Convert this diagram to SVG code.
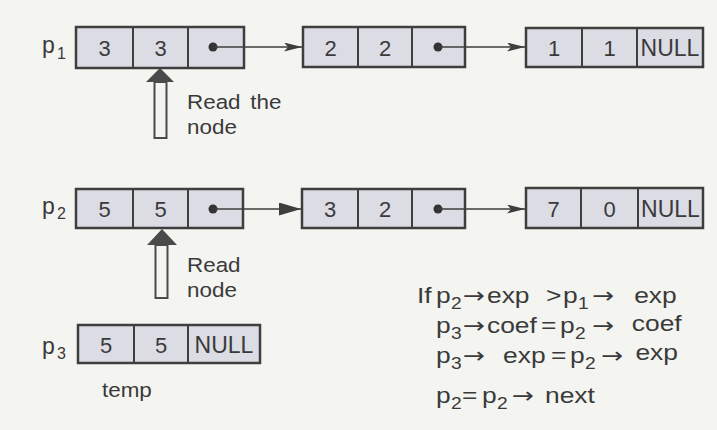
<svg xmlns="http://www.w3.org/2000/svg" width="717" height="430" viewBox="0 0 717 430">
  <style>
    .bg { fill: #f4f4f1; }
    .box { fill: #dcdce5; stroke: #3e3e3e; stroke-width: 2.5; }
    .div { stroke: #3e3e3e; stroke-width: 2; }
    .val { font-family: "Liberation Sans", Arial, sans-serif; font-size: 22px; fill: #3a3a3a; text-anchor: middle; }
    .null { font-family: "Liberation Sans", Arial, sans-serif; font-size: 23px; fill: #3a3a3a; text-anchor: middle; }
    .lbl { font-family: "Liberation Sans", Arial, sans-serif; font-size: 23px; fill: #3a3a3a; }
    .sub { font-size: 16px; }
    .note { font-family: "Liberation Sans", Arial, sans-serif; font-size: 19.5px; fill: #3a3a3a; }
    .code { font-family: "Liberation Sans", Arial, sans-serif; font-size: 22px; fill: #3a3a3a; }
    .arr { font-family: "DejaVu Sans", sans-serif; font-size: 22px; }
    .dot { fill: #333; }
    .link { stroke: #3e3e3e; stroke-width: 1.6; fill: none; }
    .ptr-head { fill: #4a4a4a; }
    .ptr-shaft { fill: #f4f4f1; stroke: #4a4a4a; stroke-width: 2; }
  </style>
  <defs>
    <marker id="head" markerUnits="userSpaceOnUse" markerWidth="18" markerHeight="10" refX="18" refY="4.5" orient="auto">
      <path d="M0,0 L18,4.5 L0,9 L4,4.5 z" fill="#3e3e3e"/>
    </marker>
    <marker id="head-bold" markerUnits="userSpaceOnUse" markerWidth="22" markerHeight="14" refX="22" refY="6.5" orient="auto">
      <path d="M0,0 L22,6.5 L0,13 z" fill="#3e3e3e"/>
    </marker>
  </defs>

  <rect class="bg" x="0" y="0" width="717" height="430"/>

  <!-- list p1 -->
  <g id="label-p1">
    <text class="lbl" x="42" y="53">p<tspan class="sub" x="57" y="59">1</tspan></text>
  </g>
  <g id="p1-node1">
    <rect class="box" x="76" y="27" width="168" height="41"/>
    <line class="div" x1="133" y1="27" x2="133" y2="68"/>
    <line class="div" x1="188" y1="27" x2="188" y2="68"/>
    <text class="val" x="104.5" y="56">3</text>
    <text class="val" x="160.5" y="56">3</text>
    <circle class="dot" cx="213" cy="47" r="4.5"/>
  </g>
  <g id="p1-node2">
    <rect class="box" x="303" y="27" width="162" height="40"/>
    <line class="div" x1="358" y1="27" x2="358" y2="67"/>
    <line class="div" x1="412" y1="27" x2="412" y2="67"/>
    <text class="val" x="330.5" y="56">2</text>
    <text class="val" x="385" y="56">2</text>
    <circle class="dot" cx="438" cy="47" r="4.5"/>
  </g>
  <g id="p1-node3">
    <rect class="box" x="526" y="28" width="177" height="39"/>
    <line class="div" x1="582" y1="28" x2="582" y2="67"/>
    <line class="div" x1="637" y1="28" x2="637" y2="67"/>
    <text class="val" x="554" y="56">1</text>
    <text class="val" x="609.5" y="56">1</text>
    <text class="null" x="670" y="56">NULL</text>
  </g>
  <g id="read-p1">
    <polygon class="ptr-head" points="160,68 146,82 174,82"/>
    <rect class="ptr-shaft" x="154.5" y="82" width="12" height="56"/>
    <text class="note" transform="translate(187 109) scale(1.15 1)" word-spacing="3">Read the</text>
    <text class="note" transform="translate(187 134) scale(1.15 1)">node</text>
  </g>

  <!-- list p2 -->
  <g id="label-p2">
    <text class="lbl" x="42" y="214">p<tspan class="sub" x="57" y="219">2</tspan></text>
  </g>
  <g id="p2-node1">
    <rect class="box" x="76" y="189" width="167" height="39"/>
    <line class="div" x1="133" y1="189" x2="133" y2="228"/>
    <line class="div" x1="188" y1="189" x2="188" y2="228"/>
    <text class="val" x="104.5" y="217">5</text>
    <text class="val" x="160.5" y="217">5</text>
    <circle class="dot" cx="213" cy="209" r="4.5"/>
  </g>
  <g id="p2-node2">
    <rect class="box" x="302" y="189" width="163" height="39"/>
    <line class="div" x1="358" y1="189" x2="358" y2="228"/>
    <line class="div" x1="412" y1="189" x2="412" y2="228"/>
    <text class="val" x="330" y="217">3</text>
    <text class="val" x="385" y="217">2</text>
    <circle class="dot" cx="438" cy="209" r="4.5"/>
  </g>
  <g id="p2-node3">
    <rect class="box" x="526" y="188" width="177" height="40"/>
    <line class="div" x1="581" y1="188" x2="581" y2="228"/>
    <line class="div" x1="638" y1="188" x2="638" y2="228"/>
    <text class="val" x="553.5" y="217">7</text>
    <text class="val" x="609.5" y="217">0</text>
    <text class="null" x="670.5" y="217">NULL</text>
  </g>
  <g id="read-p2">
    <polygon class="ptr-head" points="162,229 147,245 177,245"/>
    <rect class="ptr-shaft" x="155.5" y="245" width="12" height="53"/>
    <text class="note" transform="translate(187 272) scale(1.15 1)">Read</text>
    <text class="note" transform="translate(187 297) scale(1.15 1)">node</text>
  </g>

  <!-- result list p3 -->
  <g id="label-p3">
    <text class="lbl" x="42" y="354">p<tspan class="sub" x="57" y="359">3</tspan></text>
  </g>
  <g id="p3-node1">
    <rect class="box" x="78" y="325" width="182" height="38"/>
    <line class="div" x1="134" y1="325" x2="134" y2="363"/>
    <line class="div" x1="188" y1="325" x2="188" y2="363"/>
    <text class="val" x="106" y="353">5</text>
    <text class="val" x="161" y="353">5</text>
    <text class="null" x="224" y="353">NULL</text>
    <text class="note" transform="translate(102 397) scale(1.15 1)">temp</text>
  </g>

  <!-- next-pointer links -->
  <g id="connectors">
    <line class="link" x1="213" y1="47" x2="302" y2="47" marker-end="url(#head)"/>
    <line class="link" x1="438" y1="47" x2="525" y2="47" marker-end="url(#head)"/>
    <line class="link" x1="213" y1="209" x2="301" y2="209" marker-end="url(#head-bold)"/>
    <line class="link" x1="438" y1="209" x2="525" y2="209" marker-end="url(#head)"/>
  </g>

  <!-- merge step; lines are set in a slightly widened face, origin at x=417 -->
  <g id="merge-rule" transform="translate(417 0) scale(1.2 1)">
    <text class="code" y="303"><tspan x="0">If</tspan><tspan x="15.8">p</tspan><tspan class="sub" x="28.3" y="309">2</tspan><tspan class="arr" x="38.3" y="303">→</tspan><tspan x="58.3" y="303">exp</tspan><tspan x="107.5">&gt;</tspan><tspan x="121.7">p</tspan><tspan class="sub" x="134.2" y="309">1</tspan><tspan class="arr" x="146" y="303">→</tspan><tspan x="181" y="303">exp</tspan></text>
    <text class="code" y="333"><tspan x="15.8">p</tspan><tspan class="sub" x="28.3" y="339">3</tspan><tspan class="arr" x="38.3" y="333">→</tspan><tspan x="58.3" y="333">coef</tspan><tspan x="103.3">=</tspan><tspan x="119.2">p</tspan><tspan class="sub" x="131.7" y="339">2</tspan><tspan class="arr" x="146" y="333">→</tspan><tspan x="179" y="331">coef</tspan></text>
    <text class="code" y="363"><tspan x="15.8">p</tspan><tspan class="sub" x="28.3" y="369">3</tspan><tspan class="arr" x="38.3" y="363">→</tspan><tspan x="71.7" y="363">exp</tspan><tspan x="111.7">=</tspan><tspan x="127.5">p</tspan><tspan class="sub" x="140" y="369">2</tspan><tspan class="arr" x="153.5" y="363">→</tspan><tspan x="182" y="360">exp</tspan></text>
    <text class="code" y="403"><tspan x="15.8">p</tspan><tspan class="sub" x="28.3" y="409">2</tspan><tspan x="37.5" y="403">=</tspan><tspan x="54.2">p</tspan><tspan class="sub" x="66.7" y="409">2</tspan><tspan class="arr" x="79.2" y="403">→</tspan><tspan x="106.7" y="403">next</tspan></text>
  </g>
</svg>
